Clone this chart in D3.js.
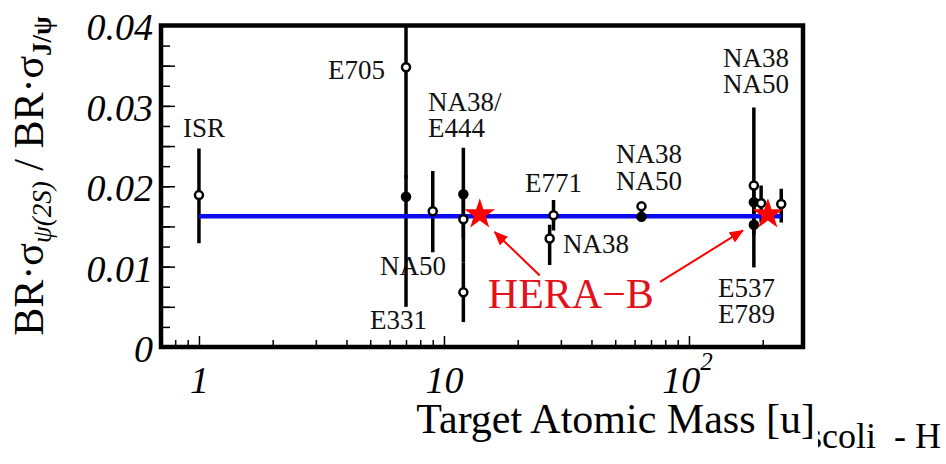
<!DOCTYPE html>
<html>
<head>
<meta charset="utf-8">
<script src="https://cdn.jsdelivr.net/npm/d3@7"></script>
<style>
body { margin: 0; background: #fff; }
</style>
</head>
<body>
<div id="chart"></div>
<script>
// measurements: target mass number, ratio, error bar ends, marker style
const targetA   = [1, 7, 7, 9, 12, 12, 12, 27, 28, 64, 64, 184, 184, 184, 197, 238];
const ratio     = [0.0189, 0.0348, 0.0187, 0.0169, 0.0190, 0.0159, 0.0068, 0.0135, 0.0164, 0.0175, 0.0162, 0.0201, 0.0180, 0.0152, 0.0179, 0.0178];
const ratioLow  = [0.0129, 0.0210, 0.0050, 0.0118, 0.0105, 0.0135, 0.0031, 0.0102, 0.0145, 0.0158, 0.0157, 0.0099, 0.0165, 0.0140, 0.0155, 0.0155];
const ratioHigh = [0.0247, 0.0500, 0.0214, 0.0219, 0.0248, 0.0185, 0.0105, 0.0152, 0.0183, 0.0180, 0.0167, 0.0298, 0.0195, 0.0165, 0.0201, 0.0197];
const filled    = [false, false, true, false, true, false, false, false, false, false, true, false, true, true, false, false];

// fitted constant
const fitRatio = 0.01627;
const fitRangeA = [1, 238];

// HERA-B expectations
const heraA = [14, 210];
const heraRatio = [0.0165, 0.0165];

// experiment labels (anchored in data coordinates)
const labelText   = ['ISR', 'E705', 'NA38/', 'E444', 'E771', 'NA38', 'NA50', 'NA38', 'NA50', 'NA38', 'NA50', 'E331', 'E537', 'E789'];
const labelA      = [1.048, 5.74, 8.6, 8.6, 21.4, 50.4, 50.4, 137.7, 137.7, 30.6, 5.48, 4.99, 131.3, 131.3];
const labelRatio  = [0.0261, 0.0334, 0.0294, 0.0261, 0.0193, 0.0229, 0.0195, 0.0348, 0.0316, 0.0117, 0.0089, 0.0022, 0.0062, 0.0030];
const labelAnchor = ['middle', 'end', 'start', 'start', 'start', 'start', 'start', 'start', 'start', 'start', 'start', 'start', 'start', 'start'];

// HERA-B annotation and arrows
const heraLabelA = 15.1, heraLabelRatio = 0.0048;
const arrowFromA = [24.6, 76.2], arrowFromRatio = [0.0089, 0.0081];
const arrowToA = [16.1, 166], arrowToRatio = [0.0143, 0.0145];

// axis ticks
const yMajor = [0, 0.005, 0.01, 0.015, 0.02, 0.025, 0.03, 0.035, 0.04];
const yMinor = d3.range(0, 0.04001, 0.0025);
const xMajor = [1, 10, 100];
const xMinor = [0.8, 0.9, 2, 3, 4, 5, 6, 7, 8, 9, 20, 30, 40, 50, 60, 70, 80, 90, 200];

const W = 946, H = 464;
const plot = { left: 161, right: 803, top: 25.5, bottom: 347 };
const serif = "'Liberation Serif'";

const svg = d3.select('#chart').append('svg')
    .attr('width', W)
    .attr('height', H)
    .style('display', 'block');

const x = d3.scaleLog().domain([0.70, 292]).range([plot.left, plot.right]);
const y = d3.scaleLinear().domain([0, 0.04]).range([plot.bottom, plot.top]);

svg.append('clipPath').attr('id', 'plot-clip')
    .append('rect')
    .attr('x', plot.left).attr('y', plot.top)
    .attr('width', plot.right - plot.left).attr('height', plot.bottom - plot.top);

// Y axis ticks
svg.append('g')
    .attr('transform', `translate(${plot.left},0)`)
    .call(d3.axisLeft(y).tickValues(yMinor).tickSize(-9).tickFormat(''))
    .call(g => g.select('.domain').remove());

svg.append('g')
    .attr('transform', `translate(${plot.left},0)`)
    .call(d3.axisLeft(y).tickValues(yMajor).tickSize(-14).tickPadding(8)
        .tickFormat(d => (Math.round(d * 1000) % 10 === 0) ? (d === 0 ? '0' : d.toFixed(2)) : ''))
    .call(g => g.select('.domain').remove())
    .call(g => g.selectAll('text')
        .attr('font-family', serif)
        .attr('font-style', 'italic')
        .attr('font-size', 38)
        .attr('fill', '#000')
        .attr('dy', '0.38em'));

// X axis ticks
svg.append('g')
    .attr('transform', `translate(0,${plot.bottom})`)
    .call(d3.axisBottom(x).tickValues(xMinor).tickSize(-7).tickFormat(''))
    .call(g => g.select('.domain').remove());

const xAxis = svg.append('g')
    .attr('transform', `translate(0,${plot.bottom})`)
    .call(d3.axisBottom(x).tickValues(xMajor).tickSize(-11).tickPadding(19)
        .tickFormat(d => d === 100 ? '' : String(d)))
    .call(g => g.select('.domain').remove())
    .call(g => g.selectAll('text')
        .attr('font-family', serif)
        .attr('font-style', 'italic')
        .attr('font-size', 38)
        .attr('fill', '#000'));

// 10^2 label
xAxis.selectAll('.tick').filter(d => d === 100).select('text')
    .attr('text-anchor', 'middle')
    .call(t => {
        t.append('tspan').attr('dx', '-2').text('10');
        t.append('tspan').attr('font-size', 25).attr('dy', '-0.9em').text('2');
    });

svg.selectAll('.tick line').attr('stroke', '#000').attr('stroke-width', 1.5);

// axis titles
svg.append('text')
    .attr('x', 815)
    .attr('y', 433)
    .attr('text-anchor', 'end')
    .attr('font-family', serif)
    .attr('font-size', 42)
    .attr('fill', '#000')
    .text('Target Atomic Mass [u]');

const yTitle = svg.append('text')
    .attr('transform', 'translate(43,176) rotate(-90)')
    .attr('text-anchor', 'middle')
    .attr('font-family', serif)
    .attr('font-size', 42)
    .attr('fill', '#000');
yTitle.append('tspan').text('BR·σ');
yTitle.append('tspan').attr('font-size', 27).attr('font-style', 'italic').attr('dy', 8).text('ψ(2S)');
yTitle.append('tspan').attr('dy', -8).style('white-space', 'pre').text(' / BR·σ');
yTitle.append('tspan').attr('font-size', 27).attr('font-weight', 'bold').attr('dy', 8).text('J/ψ');

// data layer
const data = targetA.map((a, i) => ({
    a, r: ratio[i], lo: ratioLow[i], hi: ratioHigh[i], filled: filled[i]
}));

const marks = svg.append('g').attr('clip-path', 'url(#plot-clip)');

marks.selectAll('line.err')
    .data(data)
    .enter()
    .append('line')
    .attr('class', 'err')
    .attr('x1', d => x(d.a))
    .attr('x2', d => x(d.a))
    .attr('y1', d => y(d.lo))
    .attr('y2', d => y(d.hi))
    .attr('stroke', '#000')
    .attr('stroke-width', 3.5);

// fit line
marks.append('line')
    .attr('x1', x(fitRangeA[0]))
    .attr('x2', x(fitRangeA[1]))
    .attr('y1', y(fitRatio))
    .attr('y2', y(fitRatio))
    .attr('stroke', '#0b0bf2')
    .attr('stroke-width', 4.5);

marks.selectAll('circle.pt')
    .data(data)
    .enter()
    .append('circle')
    .attr('class', 'pt')
    .attr('cx', d => x(d.a))
    .attr('cy', d => y(d.r))
    .attr('r', 4)
    .attr('fill', d => d.filled ? '#000' : '#fff')
    .attr('stroke', '#000')
    .attr('stroke-width', 2.5);

// HERA-B stars
const star = d3.symbol().type(d3.symbolStar).size(295);
marks.selectAll('path.star')
    .data(heraA.map((a, i) => ({ a, r: heraRatio[i] })))
    .enter()
    .append('path')
    .attr('class', 'star')
    .attr('d', star)
    .attr('transform', d => `translate(${x(d.a)},${y(d.r)})`)
    .attr('fill', '#ff0000');

// frame
svg.append('rect')
    .attr('x', plot.left)
    .attr('y', plot.top)
    .attr('width', plot.right - plot.left)
    .attr('height', plot.bottom - plot.top)
    .attr('fill', 'none')
    .attr('stroke', '#000')
    .attr('stroke-width', 4.5);

// experiment labels
svg.selectAll('text.lbl')
    .data(labelText)
    .enter()
    .append('text')
    .attr('class', 'lbl')
    .attr('x', (d, i) => x(labelA[i]))
    .attr('y', (d, i) => y(labelRatio[i]))
    .attr('text-anchor', (d, i) => labelAnchor[i])
    .attr('font-family', serif)
    .attr('font-size', 27)
    .attr('fill', '#111')
    .text(d => d);

// arrows
svg.append('defs').append('marker')
    .attr('id', 'arrow')
    .attr('markerUnits', 'userSpaceOnUse')
    .attr('viewBox', '0 0 14 12')
    .attr('refX', 13)
    .attr('refY', 6)
    .attr('markerWidth', 14)
    .attr('markerHeight', 12)
    .attr('orient', 'auto')
    .append('path')
    .attr('d', 'M0,0 L14,6 L0,12 Z')
    .attr('fill', '#ff0000');

svg.selectAll('line.arrow')
    .data(arrowFromA)
    .enter()
    .append('line')
    .attr('class', 'arrow')
    .attr('x1', (d, i) => x(arrowFromA[i]))
    .attr('y1', (d, i) => y(arrowFromRatio[i]))
    .attr('x2', (d, i) => x(arrowToA[i]))
    .attr('y2', (d, i) => y(arrowToRatio[i]))
    .attr('stroke', '#ff0000')
    .attr('stroke-width', 2)
    .attr('marker-end', 'url(#arrow)');

svg.append('text')
    .attr('x', x(heraLabelA))
    .attr('y', y(heraLabelRatio))
    .attr('font-family', serif)
    .attr('font-size', 42)
    .attr('fill', '#e3111b')
    .text('HERA−B');

// cut-off footer text at the bottom right
svg.append('clipPath').attr('id', 'footer-clip')
    .append('rect').attr('x', 818).attr('y', 400).attr('width', 130).attr('height', 64);
svg.append('text')
    .attr('clip-path', 'url(#footer-clip)')
    .attr('x', 808)
    .attr('y', 448)
    .attr('font-family', serif)
    .attr('font-size', 36)
    .attr('fill', '#000')
    .style('white-space', 'pre')
    .text('scoli  - H');
</script>
</body>
</html>
